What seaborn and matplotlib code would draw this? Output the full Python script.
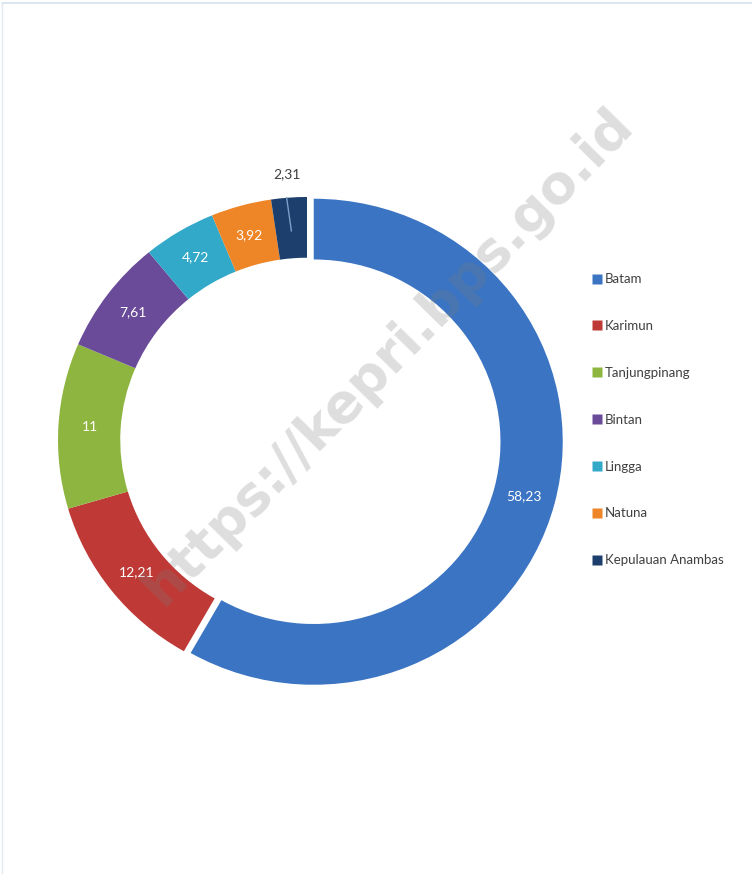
import matplotlib
matplotlib.use("Agg")
import matplotlib.pyplot as plt
import seaborn as sns
import numpy as np
from matplotlib.lines import Line2D

sns.set_theme(style="white")
plt.rcParams['font.family'] = ['Lato', 'DejaVu Sans']

# data
kabupaten = ['Batam', 'Karimun', 'Tanjungpinang', 'Bintan', 'Lingga', 'Natuna', 'Kepulauan Anambas']
nilai = [58.23, 12.21, 11, 7.61, 4.72, 3.92, 2.31]
label_nilai = ['58,23', '12,21', '11', '7,61', '4,72', '3,92', '2,31']
warna = ['#3a74c2', '#bf3a36', '#8fb541', '#6a4b99', '#33a9c9', '#ee8527', '#1d3f6d']
pecah = [0.028, 0, 0, 0, 0, 0, 0]

fig = plt.figure(figsize=(7.52, 8.74), dpi=100)
ax = fig.add_axes([58 / 752, 191 / 874, 498 / 752, 486 / 874])

wedges, _ = ax.pie(nilai, colors=warna, startangle=90, counterclock=False,
                   explode=pecah, radius=1,
                   wedgeprops=dict(width=0.25, edgecolor='none'))
ax.set_aspect('auto')
ax.set_xlim(-1, 1)
ax.set_ylim(-1, 1)
ax.axis('off')

# label nilai di tengah cincin
for w, teks, e in zip(wedges, label_nilai, pecah):
    ang = np.deg2rad((w.theta1 + w.theta2) / 2)
    cx, cy = w.center
    if teks == '2,31':
        ax.plot([cx + 0.86 * np.cos(ang), cx + 1.04 * np.cos(ang) - 0.012],
                [cy + 0.86 * np.sin(ang), cy + 1.04 * np.sin(ang)],
                color='#7f9fc8', lw=1, solid_capstyle='butt', zorder=5)
        ax.text(cx + 1.09 * np.cos(ang), cy + 1.095 * np.sin(ang), teks,
                ha='center', va='center', fontsize=10, color='#404040')
    else:
        ax.text(cx + 0.875 * np.cos(ang), cy + 0.875 * np.sin(ang), teks,
                ha='center', va='center', fontsize=10, color='white')

# legenda
handles = [Line2D([0], [0], marker='s', color='none', markerfacecolor=c,
                  markeredgecolor='none', markersize=7.5) for c in warna]
fig.legend(handles, kabupaten, loc='upper left', bbox_to_anchor=(586 / 752, 1 - 268 / 874),
           frameon=False, fontsize=9.5, labelspacing=2.64, handlelength=0.8,
           handletextpad=0.25, borderaxespad=0, labelcolor='#404040')

# watermark
fig.text(388 / 752, 1 - 356 / 874, 'https://kepri.bps.go.id', rotation=45.5,
         ha='center', va='center', fontsize=38.5, fontweight='bold',
         family='DejaVu Sans', color='#7a7a7a', alpha=0.25, zorder=10)

# garis tepi tipis
fig.add_artist(Line2D([0.003, 1], [0.997, 0.997], color='#d4e2ee', lw=1.2))
fig.add_artist(Line2D([0.003, 0.003], [0, 0.997], color='#e4e8f0', lw=1))

fig.savefig('out.png', dpi=100)
